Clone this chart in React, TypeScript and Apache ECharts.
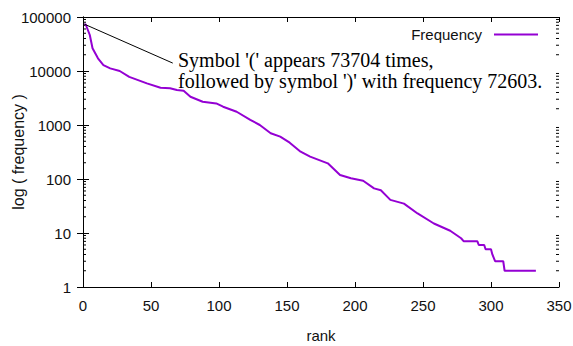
import React, { useEffect, useRef } from "react";
import * as echarts from "echarts";

// Data (rank vs. symbol frequency)
const ranks = [1, 2, 5, 7, 11, 15, 20, 27, 34, 47, 57, 64, 69, 74, 79, 88, 98, 103, 113, 123, 130, 138, 145, 152, 160, 167, 180, 189, 197, 206, 214, 219, 226, 236, 246, 258, 270, 278, 280, 290, 291, 295, 296, 300, 301, 303, 309, 310, 333];
const freqs = [73704, 72603, 46400, 26300, 17200, 12900, 11200, 10000, 7800, 5900, 4900, 4790, 4450, 4310, 3340, 2700, 2510, 2180, 1760, 1240, 1000, 702, 608, 470, 321, 259, 195, 119, 103, 93, 67, 62, 41, 35, 23, 15, 11, 8, 7, 7, 6, 6, 5, 5, 4, 3, 3, 2, 2];

const seriesName = "Frequency";
const xTickLabels = [0, 50, 100, 150, 200, 250, 300, 350];
const yTickLabels = [1, 10, 100, 1000, 10000, 100000];
const minorMultipliers = [2, 3, 4, 5, 6, 7, 8, 9];
const minorDecades = [1, 10, 100, 1000, 10000];
const annotationLines = ["Symbol '(' appears 73704 times,", "followed by symbol ')' with frequency 72603."];
const arrowFrom = [66, 14000];

const PURPLE = "#9400D3";
const SANS = '"Liberation Sans", Arial, sans-serif';
const SERIF = '"Liberation Serif", "Times New Roman", serif';

export default function App() {
  const ref = useRef<HTMLDivElement>(null);
  useEffect(() => {
    if (!ref.current) return;
    const chart = echarts.init(ref.current, null, { renderer: "svg" });
    const xMin = xTickLabels[0];
    const xMax = xTickLabels[xTickLabels.length - 1];
    const yMin = yTickLabels[0];
    const yMax = yTickLabels[yTickLabels.length - 1];
    const minorVals: number[][] = [];
    minorDecades.forEach((d) => minorMultipliers.forEach((m) => minorVals.push([xMin, d * m])));

    const axisLineStyle = { color: "#000", width: 1 };
    const option: any = {
      animation: false,
      backgroundColor: "#fff",
      grid: { left: 83, right: 14, top: 17, bottom: 59, containLabel: false, outerBoundsMode: "none" },
      legend: {
        data: [seriesName],
        right: 30,
        top: 22,
        align: "right",
        icon: "rect",
        itemWidth: 44,
        itemHeight: 2,
        textStyle: { fontFamily: SANS, fontSize: 15, color: "#111", padding: [0, 7, 0, 0] },
      },
      xAxis: [
        {
          type: "value",
          min: xMin,
          max: xMax,
          interval: 50,
          position: "bottom",
          name: "rank",
          nameLocation: "middle",
          nameGap: 41,
          nameMoveOverlap: false,
          nameTextStyle: { fontFamily: SANS, fontSize: 15, color: "#111" },
          axisLine: { show: true, lineStyle: axisLineStyle },
          axisTick: { show: true, inside: true, length: 5, lineStyle: axisLineStyle },
          axisLabel: { fontFamily: SANS, fontSize: 15, color: "#111", margin: 11 },
          splitLine: { show: false },
        },
        {
          type: "value",
          min: xMin,
          max: xMax,
          interval: 50,
          position: "top",
          axisLine: { show: true, lineStyle: axisLineStyle },
          axisTick: { show: true, inside: true, length: 5, lineStyle: axisLineStyle },
          axisLabel: { show: false },
          splitLine: { show: false },
        },
      ],
      yAxis: [
        {
          type: "log",
          logBase: 10,
          min: yMin,
          max: yMax,
          position: "left",
          name: "log ( frequency )",
          nameLocation: "middle",
          nameGap: 57,
          nameMoveOverlap: false,
          nameRotate: 90,
          nameTextStyle: { fontFamily: SANS, fontSize: 16, color: "#111" },
          axisLine: { show: true, lineStyle: axisLineStyle },
          axisTick: { show: true, inside: true, length: 6, lineStyle: axisLineStyle },
          axisLabel: {
            fontFamily: SANS,
            fontSize: 15,
            color: "#111",
            margin: 12,
            formatter: (v: number) => String(Math.round(v)),
          },
          splitLine: { show: false },
        },
        {
          type: "log",
          logBase: 10,
          min: yMin,
          max: yMax,
          position: "right",
          axisLine: { show: true, lineStyle: axisLineStyle },
          axisTick: { show: true, inside: true, length: 6, lineStyle: axisLineStyle },
          axisLabel: { show: false },
          splitLine: { show: false },
        },
      ],
      series: [
        {
          name: seriesName,
          type: "line",
          xAxisIndex: 0,
          yAxisIndex: 0,
          data: ranks.map((r, i) => [r, freqs[i]]),
          symbol: "none",
          color: PURPLE,
          lineStyle: { color: PURPLE, width: 2 },
          markLine: {
            silent: true,
            symbol: ["none", "arrow"],
            symbolSize: [0, 8],
            label: { show: false },
            lineStyle: { color: "#000", width: 1, type: "solid" },
            emphasis: { disabled: true },
            data: [[{ coord: arrowFrom }, { coord: [ranks[0], freqs[0]] }]],
          },
          z: 3,
        },
        {
          name: "minor-ticks",
          type: "custom",
          xAxisIndex: 0,
          yAxisIndex: 0,
          silent: true,
          data: minorVals,
          renderItem: (params: any, api: any) => {
            const v = api.value(1);
            const l = api.coord([xMin, v]);
            const r = api.coord([xMax, v]);
            const st = { stroke: "#000", lineWidth: 1 };
            return {
              type: "group",
              children: [
                { type: "line", shape: { x1: l[0], y1: l[1], x2: l[0] + 3, y2: l[1] }, style: st },
                { type: "line", shape: { x1: r[0] - 3, y1: r[1], x2: r[0], y2: r[1] }, style: st },
              ],
            };
          },
          z: 2,
        },
      ],
      graphic: [
        {
          type: "text",
          left: 178,
          top: 49,
          silent: true,
          style: {
            text: annotationLines.join("\n"),
            font: `20px ${SERIF}`,
            fill: "#000",
            lineHeight: 21,
          },
        },
      ],
    };
    chart.setOption(option);
    return () => chart.dispose();
  }, []);
  return (
    <div
      ref={ref}
      style={{ position: "absolute", left: 0, top: 0, width: 573, height: 346, background: "#fff" }}
    />
  );
}
